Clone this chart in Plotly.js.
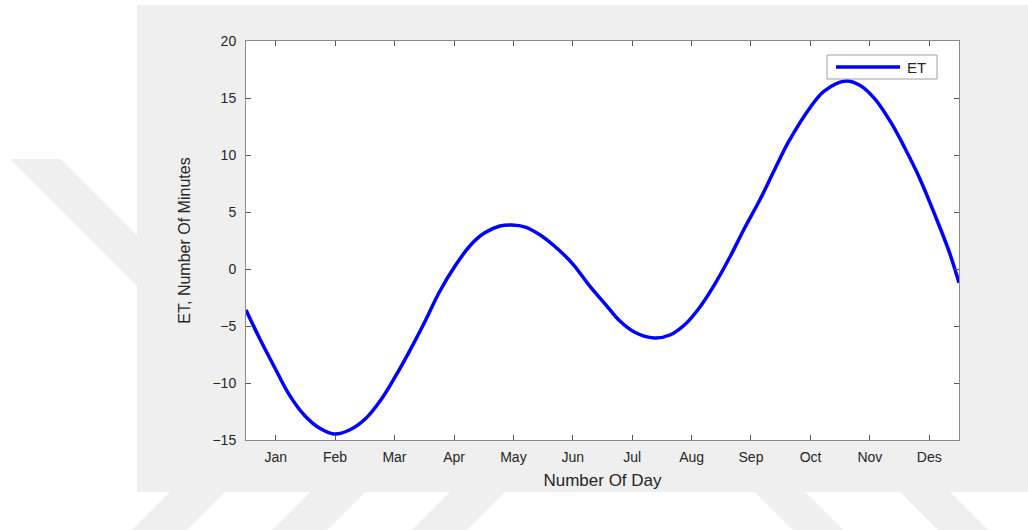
<!DOCTYPE html>
<html>
<head>
<meta charset="utf-8">
<script src="https://cdn.plot.ly/plotly-3.0.1.min.js"></script>
<style>html,body{margin:0;padding:0;background:#fff;}#chart{width:1028px;height:530px;}</style>
</head>
<body>
<div id="chart"></div>
<script>
// Day of year and equation-of-time values (minutes)
const days = [0, 7, 15, 22, 30, 38, 45, 53, 61, 69, 76, 84, 92, 99, 107, 115, 122, 130, 136, 143, 150, 158, 167, 176, 184, 191, 199, 209, 217, 225, 232, 240, 248, 255, 263, 271, 278, 289, 296, 307, 314, 322, 330, 337, 345, 353, 360, 365];
const etMinutes = [-3.6, -6.1, -8.75, -11.0, -12.85, -14.0, -14.47, -14.12, -13.16, -11.49, -9.56, -7.11, -4.47, -2.02, 0.26, 2.11, 3.16, 3.77, 3.86, 3.68, 3.05, 2.0, 0.5, -1.5, -3.1, -4.5, -5.55, -6.05, -5.79, -4.82, -3.42, -1.32, 1.14, 3.51, 6.05, 8.86, 11.23, 14.21, 15.61, 16.49, 16.14, 14.91, 12.9, 10.7, 7.9, 4.6, 1.5, -1.2];
const monthTickDays = [15.2, 45.6, 76.0, 106.5, 136.9, 167.3, 197.7, 228.1, 258.5, 289.0, 319.4, 349.8];
const monthLabels = ['Jan', 'Feb', 'Mar', 'Apr', 'May', 'Jun', 'Jul', 'Aug', 'Sep', 'Oct', 'Nov', 'Des'];
const yTicks = [-15, -10, -5, 0, 5, 10, 15, 20];
const seriesName = 'ET';

// page geometry (pixels) for plot area and decorations
const W = 1028, H = 530;
const L = 246, R = 959, T = 41, B = 440;
const px = x => (x - L) / (R - L);
const py = y => (B - y) / (B - T);
const FONT = 'Liberation Sans, Arial, Helvetica, sans-serif';

const grey = '#efefef';
function poly(pts) {
  return {type: 'path', xref: 'paper', yref: 'paper', layer: 'below', line: {width: 0},
    fillcolor: grey,
    path: 'M ' + pts.map(p => px(p[0]) + ',' + py(p[1])).join(' L ') + ' Z'};
}
const shapes = [
  // watermark stripes
  poly([[10, 159], [61, 159], [300, 398], [249, 398]]),
  poly([[170, 492], [225, 492], [187, 530], [132, 530]]),
  poly([[310, 492], [365, 492], [327, 530], [272, 530]]),
  poly([[450, 492], [505, 492], [467, 530], [412, 530]]),
  poly([[755, 492], [805, 492], [843, 530], [793, 530]]),
  poly([[900, 492], [950, 492], [988, 530], [938, 530]]),
  // figure panel
  {type: 'rect', xref: 'paper', yref: 'paper', layer: 'below', line: {width: 0},
    fillcolor: grey, x0: px(137), x1: px(1028), y0: py(492), y1: py(5)},
  // white axes area
  {type: 'rect', xref: 'paper', yref: 'paper', layer: 'below', line: {width: 0},
    fillcolor: '#ffffff', x0: 0, x1: 1, y0: 0, y1: 1},
  // legend box and sample line
  {type: 'rect', xref: 'paper', yref: 'paper', layer: 'above',
    line: {width: 1, color: '#a0a0a0'}, fillcolor: '#ffffff',
    x0: px(827), x1: px(937), y0: py(79), y1: py(55)},
  {type: 'line', xref: 'paper', yref: 'paper', layer: 'above',
    line: {width: 3.5, color: '#0000ff'},
    x0: px(836), x1: px(900), y0: py(67), y1: py(67)}
];

const annotations = [
  {xref: 'paper', yref: 'paper', x: px(905), y: py(67), xanchor: 'left', yanchor: 'middle',
    text: seriesName, showarrow: false, font: {family: FONT, size: 15, color: '#262626'}}
];

const trace = {
  x: days, y: etMinutes, type: 'scatter', mode: 'lines', name: seriesName,
  line: {color: '#0000ff', width: 3.5, shape: 'spline', smoothing: 1}
};

const axisCommon = {
  showline: true, linecolor: '#8a8a8a', linewidth: 1, mirror: 'ticks',
  ticks: 'inside', ticklen: 5, tickcolor: '#555', tickwidth: 1,
  showgrid: false, zeroline: false,
  tickfont: {family: FONT, size: 14, color: '#262626'}
};

const layout = {
  width: W, height: H,
  paper_bgcolor: '#ffffff', plot_bgcolor: '#ffffff',
  margin: {l: L, r: W - R, t: T, b: H - B, pad: 0},
  showlegend: false,
  xaxis: Object.assign({}, axisCommon, {
    range: [0, 365], tickmode: 'array', tickvals: monthTickDays, ticktext: monthLabels,
    ticklabelstandoff: 4,
    title: {text: 'Number Of Day', standoff: 10,
      font: {family: FONT, size: 17, color: '#262626'}}
  }),
  yaxis: Object.assign({}, axisCommon, {
    range: [-15, 20], tickmode: 'array', tickvals: yTicks,
    ticklabelstandoff: 6,
    title: {text: 'ET, Number Of Minutes', standoff: 17,
      font: {family: FONT, size: 16, color: '#262626'}}
  }),
  shapes: shapes,
  annotations: annotations
};

Plotly.newPlot('chart', [trace], layout, {displayModeBar: false, staticPlot: true});
</script>
</body>
</html>
